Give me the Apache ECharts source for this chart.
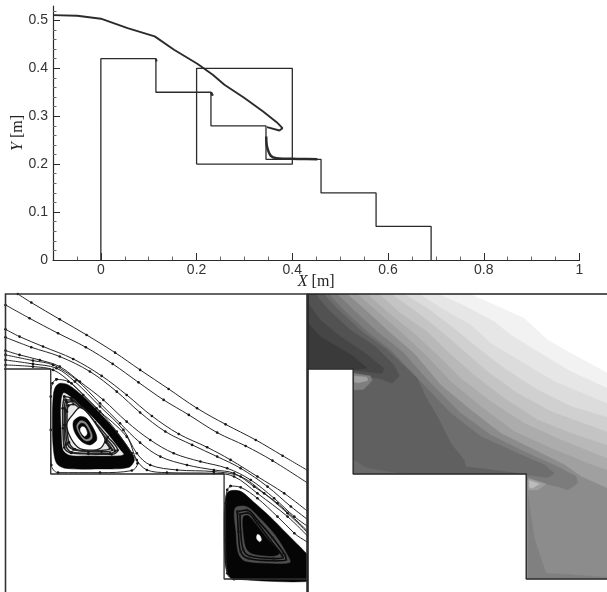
<!DOCTYPE html>
<html><head><meta charset="utf-8">
<style>html,body{margin:0;padding:0;background:#fff}#c{width:607px;height:592px;filter:blur(0.45px)}</style>
<script src="https://cdn.jsdelivr.net/npm/echarts@6/dist/echarts.min.js"></script></head>
<body><div id="c"></div>
<script>
// ---- tick labels ----
const xMajor=[0,0.2,0.4,0.6,0.8,1];
const xMinor=[-0.05,0.05,0.1,0.15,0.25,0.3,0.35,0.45,0.5,0.55,0.65,0.7,0.75,0.85,0.9,0.95];
const yMajor=[0,0.1,0.2,0.3,0.4,0.5];
const yMinor=[0.02,0.04,0.06,0.08,0.12,0.14,0.16,0.18,0.22,0.24,0.26,0.28,0.32,0.34,0.36,0.38,0.42,0.44,0.46,0.48,0.52];
// ---- geometry (m) ----
const stepProfile=[[0,0],[0,0.42],[0.115,0.42],[0.115,0.35],[0.23,0.35],[0.23,0.28],[0.345,0.28],[0.345,0.21],[0.46,0.21],[0.46,0.14],[0.575,0.14],[0.575,0.07],[0.69,0.07],[0.69,0]];
const zoomBox=[[0.2,0.2],[0.4,0.2],[0.4,0.4],[0.2,0.4],[0.2,0.2]];
const freeSurface=[[-0.1,0.511],[-0.0494,0.5097],[0,0.5035],[0.0558,0.484],[0.1125,0.4666],[0.1529,0.4387],[0.2015,0.4095],[0.2338,0.3865],[0.2581,0.3656],[0.2985,0.3391],[0.339,0.3099],[0.3673,0.2876],[0.3794,0.2751],[0.373,0.2702],[0.3471,0.2772]];
const lowerSurface=[[0.3455,0.2577],[0.3471,0.2368],[0.3552,0.2173],[0.3673,0.2124],[0.4118,0.211],[0.4523,0.2103]];
const cornerBlobA=[[0.115,0.42],[0.1165,0.4143]];
const cornerBlobB=[[0.23,0.35],[0.2338,0.3426]];
// ---- streamlines in the zoom window (m) ----
const stream1=[[0.2082,0.4],[0.2171,0.3943],[0.236,0.3831],[0.2538,0.3727],[0.2727,0.3609],[0.2893,0.3494],[0.3082,0.3367],[0.3271,0.3238],[0.346,0.3131],[0.366,0.3027],[0.3838,0.2922],[0.4007,0.2822]];
const stream2=[[0.2,0.3927],[0.216,0.3838],[0.2349,0.3738],[0.2533,0.3645],[0.2711,0.3534],[0.2882,0.3411],[0.3049,0.3294],[0.3216,0.3194],[0.3404,0.3076],[0.3593,0.2987],[0.3771,0.2889],[0.4007,0.2738]];
const stream3=[[0.2,0.3765],[0.2093,0.3716],[0.2249,0.365],[0.2449,0.3567],[0.2638,0.3454],[0.2804,0.3327],[0.2971,0.3187],[0.3149,0.3067],[0.3338,0.2978],[0.3493,0.2894],[0.3671,0.2783],[0.3849,0.2671],[0.4007,0.2549]];
const stream4=[[0.2,0.3711],[0.2171,0.3645],[0.236,0.3583],[0.256,0.3483],[0.2738,0.3349],[0.2893,0.321],[0.306,0.3083],[0.3238,0.2994],[0.3404,0.2916],[0.356,0.2838],[0.3738,0.2716],[0.3893,0.2583],[0.4007,0.2494]];
const stream5=[[0.2,0.3623],[0.2093,0.3594],[0.2227,0.356],[0.236,0.3516],[0.2493,0.3416],[0.2649,0.3294],[0.2804,0.3149],[0.296,0.3027],[0.3116,0.2938],[0.3293,0.2883],[0.3471,0.2838],[0.3627,0.276],[0.3782,0.2638],[0.3916,0.2516],[0.4007,0.2449]];
const stream6=[[0.2,0.3594],[0.2182,0.3556],[0.2316,0.3527],[0.2471,0.3427],[0.2627,0.3271],[0.276,0.3138],[0.2893,0.3009],[0.3027,0.2916],[0.3204,0.286],[0.3382,0.2827],[0.3516,0.2805],[0.3649,0.2716],[0.3804,0.2605],[0.4007,0.2416]];
const stream7=[[0.2,0.356],[0.2182,0.3534],[0.2338,0.3505],[0.246,0.3416],[0.2627,0.325],[0.2782,0.3094],[0.2871,0.2938],[0.296,0.286],[0.3138,0.2827],[0.3382,0.2816],[0.356,0.2783],[0.3716,0.2671],[0.3871,0.2538],[0.4007,0.2405]];
const stream8=[[0.2,0.3527],[0.2182,0.3516],[0.2316,0.3494],[0.2438,0.3405],[0.2604,0.3238],[0.2804,0.3049],[0.2871,0.2893],[0.2938,0.2827],[0.3071,0.2809],[0.3382,0.2805],[0.3516,0.2783],[0.3671,0.2671],[0.3871,0.2516],[0.4007,0.2383]];
// ---- first vortex ----
const v1Outline=[[0.2338,0.3431],[0.2416,0.3416],[0.2516,0.3327],[0.2627,0.3216],[0.2738,0.3083],[0.2838,0.2938],[0.2876,0.2871],[0.2838,0.2823],[0.2627,0.2809],[0.2349,0.2809],[0.2304,0.286],[0.23,0.3094],[0.23,0.3316],[0.2311,0.3405]];
const v1BandOuter=[[0.2362,0.3405],[0.2417,0.3394],[0.2505,0.3327],[0.2616,0.3216],[0.2726,0.3094],[0.2826,0.296],[0.2855,0.2894],[0.2815,0.2843],[0.2616,0.2834],[0.2395,0.2838],[0.2339,0.2871],[0.2317,0.2971],[0.2311,0.3149],[0.2317,0.3327],[0.2333,0.3383]];
const v1BandInner=[[0.2384,0.3338],[0.2428,0.3316],[0.2494,0.326],[0.2594,0.316],[0.2682,0.306],[0.276,0.296],[0.2782,0.2931],[0.2738,0.2923],[0.255,0.2923],[0.2428,0.2927],[0.2384,0.296],[0.2373,0.3083],[0.2368,0.3238]];
const v1Line0=[[0.239,0.3316],[0.2435,0.3305],[0.2501,0.3249],[0.2594,0.3145],[0.2678,0.3047],[0.2744,0.2958],[0.2704,0.2931],[0.255,0.2934],[0.2435,0.294],[0.239,0.2976],[0.2381,0.3105],[0.2379,0.3238]];
const v1Line1=[[0.2399,0.3294],[0.2439,0.3294],[0.2505,0.3238],[0.2594,0.3131],[0.2671,0.3034],[0.2726,0.2954],[0.2693,0.2938],[0.255,0.2938],[0.2439,0.2945],[0.2399,0.2994],[0.239,0.3127],[0.239,0.3238]];
const v1Line1b=[[0.2408,0.3278],[0.2446,0.3283],[0.251,0.3227],[0.2594,0.312],[0.2669,0.302],[0.2709,0.296],[0.2638,0.2949],[0.255,0.2951],[0.245,0.2963],[0.241,0.3003],[0.2399,0.3127],[0.2399,0.3227]];
const v1Line2=[[0.2417,0.3256],[0.245,0.3265],[0.251,0.3216],[0.2594,0.3109],[0.2665,0.3011],[0.2693,0.2971],[0.255,0.2954],[0.2461,0.2965],[0.2421,0.3011],[0.2408,0.3127],[0.2408,0.3216]];
const v1RingEdge=[[0.2448,0.3198],[0.2494,0.3242],[0.2552,0.3198],[0.263,0.3085],[0.266,0.3027],[0.263,0.2972],[0.255,0.2959],[0.248,0.2979],[0.2424,0.3058],[0.2408,0.3138]];
const v1Disc=[[0.2494,0.3183],[0.2538,0.3171],[0.2594,0.3083],[0.2605,0.3027],[0.2561,0.2994],[0.2505,0.3016],[0.2457,0.3083],[0.245,0.3149]];
const v1DiscRing=[[0.2494,0.3154],[0.2532,0.3145],[0.2572,0.3071],[0.2572,0.3034],[0.2536,0.302],[0.2501,0.3049],[0.2472,0.3116]];
const v1Core=[[0.2501,0.3138],[0.2527,0.3131],[0.2561,0.3067],[0.2558,0.3043],[0.2532,0.3034],[0.2505,0.306],[0.2483,0.3114]];
const v1Eye=[[0.2505,0.3114],[0.2527,0.3109],[0.2541,0.3071],[0.2527,0.3051],[0.251,0.3065],[0.2496,0.3094]];
// ---- second vortex ----
const v2Outline=[[0.3493,0.272],[0.356,0.2711],[0.3671,0.2638],[0.3804,0.2516],[0.3916,0.2405],[0.4049,0.2283],[0.4049,0.2098],[0.3516,0.2098],[0.3471,0.2138],[0.346,0.236],[0.346,0.2605],[0.3471,0.2694]];
const v2BandOuter=[[0.3478,0.2682],[0.3556,0.2686],[0.3644,0.2615],[0.3755,0.2515],[0.3865,0.2404],[0.3954,0.2315],[0.4,0.2268],[0.41,0.22],[0.41,0.2093],[0.3511,0.21],[0.3472,0.2137],[0.3456,0.2215],[0.345,0.246],[0.3456,0.2615]];
const v2BandInner=[[0.3523,0.2571],[0.36,0.2582],[0.3688,0.2504],[0.3788,0.2393],[0.3876,0.2249],[0.3887,0.2211],[0.3799,0.2204],[0.3589,0.222],[0.3545,0.2271],[0.3529,0.2415]];
const v2Line1=[[0.3538,0.2549],[0.36,0.256],[0.3677,0.2486],[0.3772,0.2375],[0.3854,0.226],[0.3861,0.2229],[0.3788,0.2222],[0.3611,0.2237],[0.356,0.2282],[0.3545,0.2415]];
const v2Line2=[[0.3556,0.2531],[0.3604,0.2542],[0.3671,0.2471],[0.3755,0.236],[0.3832,0.2264],[0.3839,0.2244],[0.3777,0.2237],[0.3622,0.2253],[0.3578,0.2293],[0.356,0.2415]];
const v2Disc=[[0.3578,0.2515],[0.3611,0.2522],[0.3666,0.246],[0.3744,0.236],[0.3817,0.2271],[0.3766,0.2253],[0.3633,0.2271],[0.3596,0.2309],[0.3578,0.2415]];
const v2Ring1=[[0.3611,0.2482],[0.3688,0.2415],[0.3766,0.2304],[0.3666,0.2293],[0.3622,0.2349],[0.36,0.2437]];
const v2Ring2=[[0.3633,0.2415],[0.3688,0.2393],[0.3733,0.2315],[0.3677,0.2315],[0.3644,0.236]];
const v2Eye=[[0.3671,0.2397],[0.3688,0.2389],[0.3697,0.236],[0.3684,0.2349],[0.3666,0.2371]];
// ---- contour band edges, lightest first (m) ----
const band0=[[0.307,0.4],[0.3214,0.3938],[0.3437,0.3838],[0.3592,0.3694],[0.3748,0.3605],[0.401,0.346]];
const band1=[[0.2859,0.4],[0.3014,0.3934],[0.3237,0.3816],[0.3348,0.3727],[0.3526,0.3616],[0.3726,0.3494],[0.401,0.336]];
const band2=[[0.2737,0.4],[0.2903,0.3894],[0.3081,0.3794],[0.3214,0.3671],[0.3414,0.355],[0.3637,0.3416],[0.401,0.326]];
const band3=[[0.2637,0.4],[0.2792,0.3905],[0.297,0.3771],[0.3103,0.366],[0.3303,0.3505],[0.3526,0.336],[0.3748,0.325],[0.401,0.3171]];
const band4=[[0.2552,0.4],[0.2703,0.3894],[0.2859,0.3771],[0.3014,0.3638],[0.3192,0.3483],[0.3392,0.3338],[0.3614,0.3216],[0.401,0.3071]];
const band5=[[0.247,0.4],[0.2614,0.3871],[0.2792,0.3749],[0.2926,0.3616],[0.3103,0.346],[0.3303,0.3305],[0.3526,0.316],[0.3748,0.3071],[0.401,0.2983]];
const band6=[[0.2392,0.4],[0.2537,0.3871],[0.2703,0.3738],[0.2859,0.3594],[0.3014,0.3438],[0.3214,0.3283],[0.3437,0.3138],[0.3681,0.3027],[0.401,0.2894]];
const band7=[[0.2326,0.4],[0.2459,0.3883],[0.2614,0.3749],[0.2781,0.3594],[0.2948,0.3416],[0.3148,0.325],[0.337,0.3083],[0.3614,0.2971],[0.3859,0.2871],[0.401,0.2816]];
const band8=[[0.2259,0.4],[0.2381,0.3894],[0.2537,0.3749],[0.2703,0.3605],[0.2881,0.3394],[0.3081,0.3227],[0.3281,0.3071],[0.3526,0.295],[0.3703,0.2861],[0.3814,0.2783],[0.401,0.2694]];
const band9=[[0.2192,0.4],[0.2303,0.3894],[0.2459,0.3749],[0.2626,0.3616],[0.2803,0.3416],[0.3014,0.3205],[0.3214,0.306],[0.3437,0.2949],[0.3659,0.2849],[0.3781,0.2783],[0.3792,0.2738],[0.3726,0.2694],[0.3659,0.2716],[0.3463,0.276]];
const band10=[[0.2137,0.4],[0.2237,0.3894],[0.2392,0.3749],[0.2548,0.3627],[0.2737,0.3427],[0.2948,0.3205],[0.3148,0.305],[0.3392,0.2938],[0.357,0.2861],[0.3637,0.2805],[0.3592,0.2776],[0.3463,0.2794]];
const band11=[[0.2103,0.4],[0.2203,0.3894],[0.2359,0.3749],[0.2526,0.3627],[0.2726,0.3438],[0.2781,0.3316],[0.2859,0.3183],[0.2948,0.3005],[0.3037,0.2894],[0.3048,0.2849],[0.3448,0.2798]];
const band12=[[0.2048,0.4],[0.2137,0.3894],[0.2281,0.376],[0.2448,0.3649],[0.257,0.3527],[0.2608,0.3454],[0.2559,0.3405],[0.2492,0.3431],[0.2303,0.3471],[0.2303,0.3498],[0.2,0.3494]];
const band13=[[0.2,0.3938],[0.2081,0.3827],[0.2214,0.3716],[0.2381,0.3605],[0.2503,0.3505],[0.2492,0.3471],[0.2426,0.3476],[0.2303,0.3494],[0.2,0.3494]];
const band14=[[0.2,0.3805],[0.2081,0.3716],[0.2192,0.3649],[0.2303,0.3583],[0.2392,0.3505],[0.2303,0.3494],[0.2,0.3494]];
const cavity1Strip=[[0.2303,0.2894],[0.2392,0.2838],[0.2637,0.2798],[0.2303,0.2798]];
const cavity2Strip=[[0.3463,0.2649],[0.3503,0.2371],[0.3581,0.2138],[0.401,0.2111],[0.401,0.2083],[0.3463,0.2083]];
const spot1Outer=[[0.2303,0.3471],[0.2414,0.3454],[0.2426,0.3423],[0.237,0.3365],[0.2303,0.336]];
const spot1Inner=[[0.2308,0.3454],[0.2392,0.3445],[0.2397,0.3423],[0.2337,0.3409],[0.2308,0.3414]];
const spot2Outer=[[0.3463,0.2771],[0.3581,0.2734],[0.3526,0.2694],[0.3463,0.2694]];
const spot2Inner=[[0.347,0.2756],[0.3537,0.2734],[0.3492,0.2707],[0.347,0.2711]];
const solidStep=[[0.2,0.35],[0.23,0.35],[0.23,0.28],[0.345,0.28],[0.345,0.21],[0.401,0.21],[0.401,0.19],[0.2,0.19]];
const farCorners=[[0.401,0.19],[0.2,0.19],[0.2,0.4]];
const nearCorners=[[0.2,0.25],[0.2,0.4]];

const ink='#2b2b2b', axisFont='"Liberation Sans",Arial,sans-serif', serif='"Liberation Serif","Times New Roman",serif';
const nameStyle={fontFamily:serif,fontSize:16,color:'#222',rich:{i:{fontFamily:serif,fontStyle:'italic',fontSize:16,color:'#222'}}};
const close=p=>p.concat([p[0]]);

function lineS(data,xi,w,extra){
  return Object.assign({type:'line',xAxisIndex:xi,yAxisIndex:xi,data,showSymbol:false,symbol:'none',
    lineStyle:{color:ink,width:w},itemStyle:{color:ink},silent:true,animation:false,z:5},extra||{});
}
function streamS(data,w,closed,color){
  return lineS(closed?close(data):data,2,w,{smooth:0.35,symbol:'circle',symbolSize:2.6,showSymbol:true,showAllSymbol:true,z:6,
    lineStyle:{color:color||'#262626',width:w},itemStyle:{color:'#161616'}});
}
function polyS(pts,color,z,edge){
  return {type:'custom',xAxisIndex:2,yAxisIndex:2,coordinateSystem:'cartesian2d',silent:true,animation:false,z:z,clip:true,
    data:pts,encode:{x:0,y:1},
    renderItem:(params,api)=>params.dataIndex===0?{type:'polygon',shape:{points:pts.map(p=>api.coord(p)),smooth:0.3},style:{fill:color,stroke:edge||color,lineWidth:edge?1.3:0.5}}:{type:'group',children:[]}};
}
function bandS(pts,color,z){
  return {type:'custom',xAxisIndex:3,yAxisIndex:3,coordinateSystem:'cartesian2d',silent:true,animation:false,z:z,clip:true,
    data:pts,encode:{x:0,y:1},
    renderItem:(params,api)=>params.dataIndex===0?{type:'polygon',shape:{points:pts.map(p=>api.coord(p))},style:{fill:color,stroke:color,lineWidth:0.5}}:{type:'group',children:[]}};
}

const fills=[
  [band0.concat(farCorners),'#f2f2f2'],[band1.concat(farCorners),'#e6e6e6'],[band2.concat(farCorners),'#dcdcdc'],
  [band3.concat(farCorners),'#d0d0d0'],[band4.concat(farCorners),'#c4c4c4'],[band5.concat(farCorners),'#b8b8b8'],
  [band6.concat(farCorners),'#acacac'],[band7.concat(farCorners),'#a0a0a0'],[band8.concat(farCorners),'#8c8c8c'],
  [band9.concat(nearCorners),'#7c7c7c'],[band10.concat(nearCorners),'#6e6e6e'],[band11.concat(nearCorners),'#606060'],
  [band12.concat([[0.2,0.4]]),'#525252'],[band13,'#464646'],[band14,'#3a3a3a'],
  [cavity1Strip,'#6a6a6a'],[cavity2Strip,'#808080'],
  [spot1Outer,'#7e7e7e'],[spot1Inner,'#a0a0a0'],[spot2Outer,'#9e9e9e'],[spot2Inner,'#bcbcbc'],
  [solidStep,'#ffffff']
];

const chart=echarts.init(document.getElementById('c'),null,{renderer:'canvas'});
const hidden={show:false};
chart.setOption({
  animation:false,backgroundColor:'#fff',
  grid:[
    {left:53,right:27.5,top:6,bottom:332,outerBoundsMode:'none'},
    {left:53,right:27.5,top:6,bottom:332,outerBoundsMode:'none'},
    {left:5.5,width:301.5,top:294,height:300,show:true,z:10,borderColor:'#333',borderWidth:1.6,backgroundColor:'transparent',outerBoundsMode:'none'},
    {left:308,width:301,top:294,height:300,show:true,z:10,borderColor:'#222',borderWidth:1.6,backgroundColor:'transparent',outerBoundsMode:'none'}
  ],
  xAxis:[
    {type:'value',gridIndex:0,min:-0.1,max:1,splitLine:hidden,name:'{i|X} [m]',nameLocation:'middle',nameGap:14,nameMoveOverlap:false,nameTextStyle:nameStyle,
     axisLine:{onZero:false,lineStyle:{color:ink,width:1.2}},axisTick:{inside:true,length:7,customValues:xMajor,lineStyle:{color:ink}},
     axisLabel:{customValues:xMajor,fontFamily:axisFont,fontSize:14,color:'#333',margin:3,formatter:v=>String(v)}},
    {type:'value',gridIndex:1,min:-0.1,max:1,splitLine:hidden,axisLine:{show:false,onZero:false},axisLabel:hidden,
     axisTick:{inside:true,length:3.5,customValues:xMinor,lineStyle:{color:'#666'}}},
    {type:'value',gridIndex:2,min:0.2,max:0.4,show:false},
    {type:'value',gridIndex:3,min:0.2,max:0.4,show:false}
  ],
  yAxis:[
    {type:'value',gridIndex:0,min:0,max:0.53,splitLine:hidden,name:'{i|Y} [m]',nameLocation:'middle',nameGap:27,nameMoveOverlap:false,nameRotate:90,nameTextStyle:nameStyle,
     axisLine:{show:true,onZero:false,lineStyle:{color:ink,width:1.2}},axisTick:{show:true,inside:true,length:7,customValues:yMajor,lineStyle:{color:ink}},
     axisLabel:{customValues:yMajor,fontFamily:axisFont,fontSize:14,color:'#333',margin:5,formatter:v=>String(v)}},
    {type:'value',gridIndex:1,min:0,max:0.53,splitLine:hidden,axisLine:{show:false,onZero:false},axisLabel:hidden,
     axisTick:{show:true,inside:true,length:3.5,customValues:yMinor,lineStyle:{color:'#666'}}},
    {type:'value',gridIndex:2,min:0.2,max:0.4,show:false},
    {type:'value',gridIndex:3,min:0.2,max:0.4,show:false}
  ],
  series:[
    lineS(stepProfile,0,1.3),
    lineS(zoomBox,0,1.3),
    lineS(freeSurface,0,1.9),
    lineS(lowerSurface,0,2.5,{smooth:0.3}),
    lineS(cornerBlobA,0,2),
    lineS(cornerBlobB,0,2.4),
    lineS(stepProfile,2,1.3,{z:7}),
    polyS(v1BandOuter,'#050505',4),polyS(v1BandInner,'#e8e8e8',4.1),
    polyS(v2BandOuter,'#050505',4),polyS(v2BandInner,'#4e4e4e',4.1),
    streamS(stream1,1),streamS(stream2,1),streamS(stream3,1),streamS(stream4,1),
    streamS(stream5,1),streamS(stream6,1),streamS(stream7,1),streamS(stream8,1),
    streamS(v1Outline,1,true),streamS(v1Line0,1.5,true),streamS(v1Line1,1.5,true),streamS(v1Line1b,1.5,true),streamS(v1Line2,1.5,true),
    streamS(v2Outline,1,true),streamS(v2Line1,1.6,true,'#0a0a0a'),streamS(v2Line2,1.6,true,'#0a0a0a'),
    polyS(v1RingEdge,'#ffffff',6.4,'#1a1a1a'),
    polyS(v1Disc,'#050505',6.5),polyS(v1DiscRing,'#8a8a8a',6.6),polyS(v1Core,'#050505',6.7),polyS(v1Eye,'#ffffff',6.8),
    polyS(v2Disc,'#050505',6.5),
    streamS(v2Ring1,0.8,true,'#5e5e5e'),streamS(v2Ring2,0.8,true,'#5e5e5e'),
    polyS(v2Eye,'#ffffff',6.8),
    ...fills.map((f,i)=>bandS(f[0],f[1],3+i*0.001)),
    lineS(stepProfile,3,1.4,{z:7,lineStyle:{color:'#222',width:1.4}})
  ]
});
</script></body></html>
